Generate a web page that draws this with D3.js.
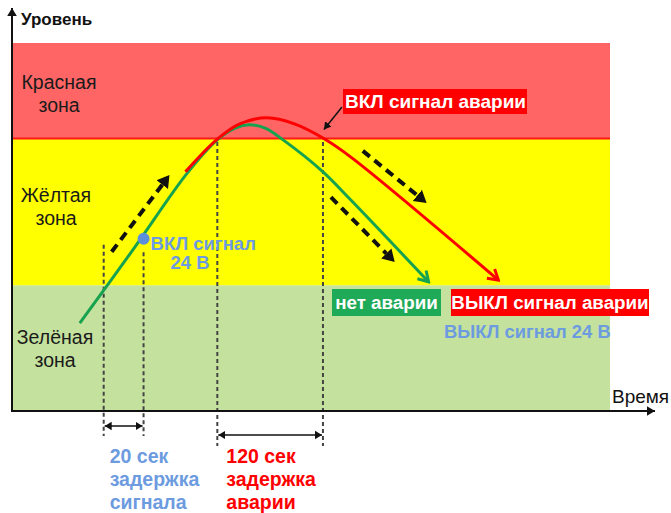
<!DOCTYPE html>
<html>
<head>
<meta charset="utf-8">
<script src="https://cdn.jsdelivr.net/npm/d3@7"></script>
<style>
  body { margin: 0; background: #fff; }
  svg { display: block; font-family: 'Liberation Sans', Arial, sans-serif; }
</style>
</head>
<body>
<svg id="chart" width="671" height="513"></svg>
<script>
// zones (level 0..100)
const zoneBounds = [0, 34, 74, 100]
const zoneLabels = [['Зелёная', 'зона'], ['Жёлтая', 'зона'], ['Красная', 'зона']]

// process curves: time (0..300) / level
const greenTime = [34, 61, 88, 103, 112, 119, 127, 136, 156, 170, 209]
const greenLevel = [23.7, 43.9, 64.6, 73.6, 76.8, 77.7, 76.8, 73.6, 64.9, 57.2, 34.9]
const redTime = [87, 103, 114, 128, 142, 156, 170, 244]
const redLevel = [64.9, 73.8, 77.9, 79.6, 77.9, 74.1, 68.9, 35.4]

// event times
const signalOnTime = 66
const delayStart = 46
const alarmTimes = [103, 156]

// trend arrows [t, level] from -> to
const trendArrows = [
  [[50, 43.1], [79, 64.0]],
  [[176, 70.6], [208, 56.4]],
  [[160, 58.0], [192, 40.3]]
]

const delayLabels = [
  { lines: ['20 сек', 'задержка', 'сигнала'], color: '#6c9be0' },
  { lines: ['120 сек', 'задержка', 'аварии'], color: '#ff0000' }
]

const svg = d3.select('#chart')
const x = d3.scaleLinear().domain([0, 300]).range([12, 610])
const y = d3.scaleLinear().domain([0, 100]).range([410, 43])
const zoneColors = ['#c4e19e', '#ffff00', '#ff6565']

const defs = svg.append('defs')
const chevron = (id, color) => defs.append('marker')
  .attr('id', id)
  .attr('markerUnits', 'userSpaceOnUse')
  .attr('viewBox', '-12 -8 14 16')
  .attr('markerWidth', 14).attr('markerHeight', 16)
  .attr('refX', 0).attr('refY', 0)
  .attr('orient', 'auto')
  .append('path')
  .attr('d', 'M-10,-6L0,0L-10,6')
  .attr('fill', 'none')
  .attr('stroke', color)
  .attr('stroke-width', 3)
chevron('arrow-green', '#17a24f')
chevron('arrow-red', '#ff0000')

const solidHead = (id, size) => defs.append('marker')
  .attr('id', id)
  .attr('markerUnits', 'userSpaceOnUse')
  .attr('viewBox', `${-size} ${-size} ${size * 2} ${size * 2}`)
  .attr('markerWidth', size * 2).attr('markerHeight', size * 2)
  .attr('refX', 0).attr('refY', 0)
  .attr('orient', 'auto-start-reverse')
  .append('path')
  .attr('d', `M${-size},${-size * 0.6}L0,0L${-size},${size * 0.6}Z`)
  .attr('fill', '#111')
solidHead('head-big', 12)
solidHead('head-small', 7)
solidHead('head-axis', 8)

// zones
const zones = d3.range(3).map(i => ({ lo: zoneBounds[i], hi: zoneBounds[i + 1], label: zoneLabels[i] }))
svg.selectAll('rect.zone')
  .data(zones)
  .join('rect')
  .attr('class', 'zone')
  .attr('x', x(0))
  .attr('y', d => y(d.hi))
  .attr('width', x(300) - x(0))
  .attr('height', d => y(d.lo) - y(d.hi))
  .attr('fill', (d, i) => zoneColors[i])

svg.append('line')
  .attr('x1', x(0)).attr('x2', x(300))
  .attr('y1', y(zoneBounds[2])).attr('y2', y(zoneBounds[2]))
  .attr('stroke', '#ff1a1a').attr('stroke-width', 2)

// zone labels
const labelX = [55, 56, 59]
const labelY = [344, 202, 89]
zones.forEach((z, i) => {
  const t = svg.append('text')
    .attr('x', labelX[i]).attr('y', labelY[i])
    .attr('text-anchor', 'middle')
    .attr('font-size', 19.5)
    .attr('fill', '#1a1a1a')
  z.label.forEach((s, k) => t.append('tspan').attr('x', labelX[i]).attr('dy', k ? 22.5 : 0).text(s))
})

// vertical dotted guides
const guides = [
  { t: delayStart, top: y(45), bottom: 436 },
  { t: signalOnTime, top: y(43), bottom: 436 },
  { t: alarmTimes[0], top: y(73), bottom: 446 },
  { t: alarmTimes[1], top: y(73), bottom: 446 }
]
svg.selectAll('line.guide')
  .data(guides)
  .join('line')
  .attr('class', 'guide')
  .attr('x1', d => x(d.t)).attr('x2', d => x(d.t))
  .attr('y1', d => d.top).attr('y2', d => d.bottom)
  .attr('stroke', '#444')
  .attr('stroke-width', 2)
  .attr('stroke-dasharray', '4,3')

// curves
const line = d3.line()
  .x(d => x(d[0]))
  .y(d => y(d[1]))
  .curve(d3.curveCatmullRom.alpha(0.5))

svg.append('path')
  .datum(greenTime.map((t, i) => [t, greenLevel[i]]))
  .attr('d', line)
  .attr('fill', 'none')
  .attr('stroke', '#17a24f')
  .attr('stroke-width', 3)
  .attr('marker-end', 'url(#arrow-green)')

svg.append('path')
  .datum(redTime.map((t, i) => [t, redLevel[i]]))
  .attr('d', line)
  .attr('fill', 'none')
  .attr('stroke', '#ff0000')
  .attr('stroke-width', 3)
  .attr('marker-end', 'url(#arrow-red)')

// trend arrows
trendArrows.forEach(([a, b]) => {
  const x1 = x(a[0]), y1 = y(a[1]), x2 = x(b[0]), y2 = y(b[1])
  const len = Math.hypot(x2 - x1, y2 - y1)
  const k = (len - 12) / len
  svg.append('line')
    .attr('x1', x1).attr('y1', y1)
    .attr('x2', x1 + (x2 - x1) * k).attr('y2', y1 + (y2 - y1) * k)
    .attr('stroke', '#111')
    .attr('stroke-width', 4)
    .attr('stroke-dasharray', '9,6')
  svg.append('path')
    .attr('d', `M${x1},${y1}L${x2},${y2}`)
    .attr('stroke', 'none')
    .attr('marker-end', 'url(#head-big)')
})

// signal-on point
const greenAt = d3.scaleLinear().domain(greenTime.slice(0, 3)).range(greenLevel.slice(0, 3))
svg.append('circle')
  .attr('cx', x(signalOnTime))
  .attr('cy', y(greenAt(signalOnTime)) + 4)
  .attr('r', 6)
  .attr('fill', '#5b8fdc')

svg.append('text')
  .attr('x', x(signalOnTime) + 7).attr('y', 250)
  .attr('font-size', 18.5).attr('font-weight', 'bold')
  .attr('fill', '#6c9be0')
  .call(t => {
    t.append('tspan').text('ВКЛ сигнал')
    t.append('tspan').attr('x', x(signalOnTime) + 27).attr('dy', 19).text('24 В')
  })

// axes
svg.append('line')
  .attr('x1', x(0)).attr('x2', x(0))
  .attr('y1', y(0) + 2).attr('y2', 8)
  .attr('stroke', '#111').attr('stroke-width', 2)
  .attr('marker-end', 'url(#head-axis)')
svg.append('line')
  .attr('x1', x(0) - 1).attr('x2', 655)
  .attr('y1', y(0) + 1).attr('y2', y(0) + 1)
  .attr('stroke', '#111').attr('stroke-width', 2)
  .attr('marker-end', 'url(#head-axis)')

svg.append('text')
  .attr('x', 21).attr('y', 25)
  .attr('font-size', 17).attr('font-weight', 'bold')
  .attr('fill', '#111')
  .text('Уровень')
svg.append('text')
  .attr('x', 612).attr('y', 403)
  .attr('font-size', 19)
  .attr('fill', '#111')
  .text('Время')

// alarm-on label
const onBox = svg.append('g')
onBox.append('rect').attr('x', 343).attr('y', 89).attr('width', 184).attr('height', 25).attr('fill', '#ff0000')
onBox.append('text').attr('x', 345).attr('y', 108).attr('font-size', 19).attr('font-weight', 'bold')
  .attr('fill', '#fff').text('ВКЛ сигнал аварии')
svg.append('path')
  .attr('d', `M342,107L${x(alarmTimes[1]) + 1},${y(zoneBounds[2]) - 9}`)
  .attr('stroke', '#111').attr('stroke-width', 1.5)
  .attr('marker-end', 'url(#head-small)')

// outcome labels
const offLabels = [
  { text: 'нет аварии', x: 332, w: 109, fill: '#1faa58' },
  { text: 'ВЫКЛ сигнал аварии', x: 451, w: 198, fill: '#ff0000' }
]
offLabels.forEach(d => {
  svg.append('rect').attr('x', d.x).attr('y', 289).attr('width', d.w).attr('height', 27).attr('fill', d.fill)
  svg.append('text').attr('x', d.x + d.w / 2).attr('y', 309).attr('text-anchor', 'middle')
    .attr('font-size', 18.8).attr('font-weight', 'bold').attr('fill', '#fff').text(d.text)
})
svg.append('text')
  .attr('x', 444).attr('y', 338)
  .attr('font-size', 18.4).attr('font-weight', 'bold')
  .attr('fill', '#6c9be0')
  .text('ВЫКЛ сигнал 24 В')

// delay brackets
const brackets = [
  { a: delayStart, b: signalOnTime, yy: 426 },
  { a: alarmTimes[0], b: alarmTimes[1], yy: 435 }
]
brackets.forEach(d => {
  svg.append('line')
    .attr('x1', x(d.a) + 1).attr('x2', x(d.b) - 1)
    .attr('y1', d.yy).attr('y2', d.yy)
    .attr('stroke', '#111').attr('stroke-width', 1.5)
    .attr('marker-start', 'url(#head-small)')
    .attr('marker-end', 'url(#head-small)')
})

delayLabels.forEach((d, i) => {
  const lx = i ? x(alarmTimes[0]) + 9 : x(delayStart) + 6
  const t = svg.append('text')
    .attr('x', lx)
    .attr('y', 463)
    .attr('font-size', 19.5).attr('font-weight', 'bold')
    .attr('fill', d.color)
  d.lines.forEach((s, k) => t.append('tspan')
    .attr('x', lx)
    .attr('dy', k ? 23 : 0).text(s))
})
</script>
</body>
</html>
